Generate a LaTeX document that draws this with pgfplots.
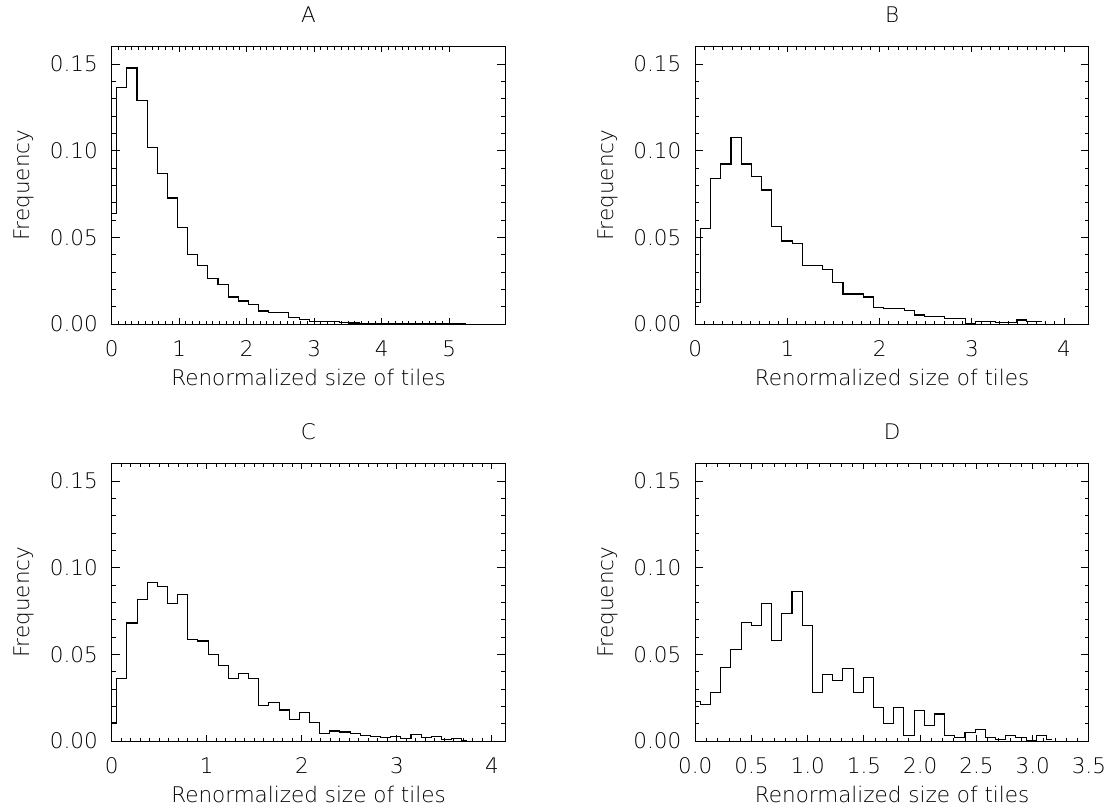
\documentclass[border=0pt]{standalone}
\usepackage{fontspec}
\setmainfont{DejaVu Sans ExtraLight}
\usepackage{pgfplots}
\pgfplotsset{compat=1.18}

\pgfplotstableread{
x y
0 0.064
0.15 0.1367
0.30 0.1477
0.45 0.129
0.60 0.1017
0.75 0.0867
0.90 0.0727
1.05 0.0556
1.20 0.0400
1.35 0.0339
1.50 0.0265
1.65 0.0229
1.80 0.0156
1.95 0.0133
2.10 0.0110
2.25 0.0075
2.40 0.0066
2.55 0.0064
2.70 0.0037
2.85 0.0025
3.00 0.0017
3.15 0.0013
3.30 0.0017
3.45 0.0008
3.60 0.0006
3.75 0.0004
3.90 0.0004
4.05 0.0003
4.20 0.0003
4.35 0.0002
4.50 0.0003
4.65 0.0002
4.80 0.0001
4.95 0.0002
5.10 0.0001
5.25 0.0001
}\dataA

\pgfplotstableread{
x y
0 0.0125
0.1105 0.055
0.221 0.0837
0.3315 0.0923
0.442 0.1075
0.5525 0.0923
0.663 0.085
0.7735 0.0773
0.884 0.0565
0.9945 0.0479
1.105 0.0465
1.2155 0.0337
1.326 0.0340
1.4365 0.0312
1.547 0.0242
1.6575 0.0173
1.768 0.0173
1.8785 0.0156
1.989 0.0096
2.0995 0.0088
2.21 0.0088
2.3205 0.0079
2.431 0.0052
2.5415 0.0044
2.652 0.0044
2.7625 0.0033
2.873 0.0033
2.9835 0.0004
3.094 0.0017
3.2045 0.0017
3.315 0.0010
3.4255 0.0010
3.536 0.0023
3.6465 0.0012
3.757 0.0012
}\dataB

\pgfplotstableread{
x y
0 0.0104
0.1067 0.0363
0.2134 0.0681
0.3201 0.0815
0.4268 0.0915
0.5335 0.0894
0.6402 0.0794
0.7469 0.0844
0.8536 0.0587
0.9603 0.0577
1.067 0.0500
1.1737 0.0435
1.2804 0.0363
1.3871 0.0390
1.4938 0.0363
1.6005 0.0206
1.7072 0.0221
1.8139 0.0179
1.9206 0.0123
2.0273 0.0167
2.134 0.0106
2.2407 0.0042
2.3474 0.0058
2.4541 0.0052
2.5608 0.0042
2.6675 0.0030
2.7742 0.0025
2.8809 0.0020
2.9876 0.0025
3.0943 0.0012
3.201 0.0040
3.3077 0.0020
3.4144 0.0025
3.5211 0.0010
3.6278 0.0012
3.7345 0.0005
}\dataC

\pgfplotstableread{
x y
0 0.0226
0.0905 0.0210
0.181 0.0280
0.2715 0.0422
0.362 0.0528
0.4525 0.0686
0.543 0.0667
0.6335 0.0791
0.724 0.0582
0.8145 0.0737
0.905 0.0861
0.9955 0.0667
1.086 0.0280
1.1765 0.0385
1.267 0.0350
1.3575 0.0421
1.448 0.0281
1.5385 0.0367
1.629 0.0194
1.7195 0.0102
1.81 0.0194
1.9005 0.0030
1.991 0.0175
2.0815 0.0088
2.172 0.0156
2.2625 0.0030
2.353 0.0020
2.4435 0.0050
2.534 0.0069
2.6245 0.0020
2.715 0.0010
2.8055 0.0030
2.896 0.0020
2.9865 0.0005
3.077 0.0030
3.1675 0.0010
}\dataD

\pgfplotsset{
  hist/.style={
    scale only axis, width=196.8pt, height=138.65pt,
    anchor=south west,
    ymin=0, ymax=0.16,
    ytick={0,0.05,0.10,0.15},
    minor y tick num=4,
    tick align=inside,
    axis line style={black, line width=0.5pt},
    every tick/.style={black, line width=0.5pt},
    major tick length=3.4pt, minor tick length=1.7pt,
    xtick style={/pgfplots/major tick length=2.8pt, /pgfplots/minor tick length=1.4pt},
    ytick style={/pgfplots/major tick length=4pt, /pgfplots/minor tick length=2pt},
    font=\fontsize{10.75}{13}\selectfont,
    /pgf/number format/assume math mode=true,
    yticklabel style={/pgf/number format/.cd, fixed, fixed zerofill, precision=2, /tikz/.cd, anchor=east, inner sep=0pt, xshift=-6.8pt},
    xticklabel style={anchor=base, yshift=-16pt},
    xlabel={Renormalized size of tiles},
    ylabel={Frequency},
    xlabel style={at={(axis description cs:0.5,0)}, anchor=base, yshift=-30.5pt},
    ylabel style={at={([xshift=-41pt]axis description cs:0,0.5)}, anchor=base},
    every axis title shift=0pt,
    title style={at={(axis description cs:0.5,1)}, anchor=base, yshift=11.9pt},
  },
  histline/.style={black, line width=0.55pt, const plot mark mid, mark=none},
}

\begin{document}
\begin{tikzpicture}
\useasboundingbox (0,0) rectangle (553.5pt,-405pt);

\begin{axis}[hist, at={(55.85pt,-162pt)}, title={A},
  xmin=0, xmax=5.83, xtick={0,1,2,3,4,5}, minor x tick num=9]
\addplot[histline] table[x=x,y=y] {\dataA};
\end{axis}

\begin{axis}[hist, at={(347.65pt,-162pt)}, title={B},
  xmin=0, xmax=4.27, xtick={0,1,2,3,4}, minor x tick num=9]
\addplot[histline] table[x=x,y=y] {\dataB};
\end{axis}

\begin{axis}[hist, at={(55.85pt,-370.5pt)}, title={C},
  xmin=0, xmax=4.14, xtick={0,1,2,3,4}, minor x tick num=9]
\addplot[histline] table[x=x,y=y] {\dataC};
\end{axis}

\begin{axis}[hist, at={(347.65pt,-370.5pt)}, title={D},
  xmin=0, xmax=3.5, xtick={0,0.5,1,1.5,2,2.5,3,3.5}, minor x tick num=4,
  xticklabel style={/pgf/number format/.cd, fixed, fixed zerofill, precision=1}]
\addplot[histline] table[x=x,y=y] {\dataD};
\end{axis}
\end{tikzpicture}
\end{document}
